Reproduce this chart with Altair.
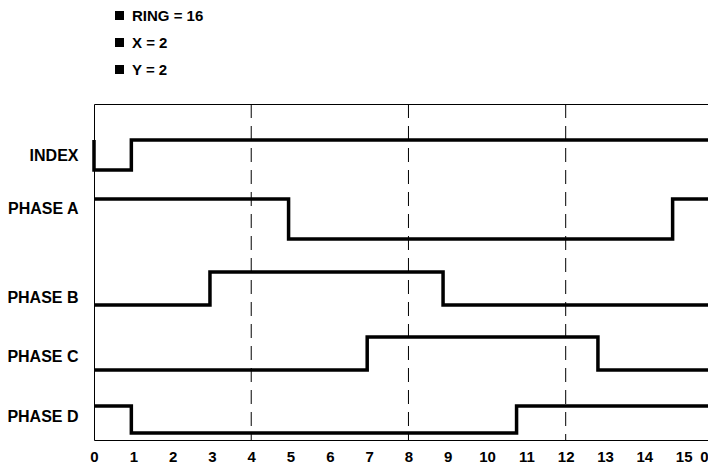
import altair as alt
import pandas as pd

# ---- data -------------------------------------------------------------
signal_names = ["INDEX", "PHASE A", "PHASE B", "PHASE C", "PHASE D"]
# low / high level of each trace (vertical units, 0 = bottom of the frame)
signal_low = [270, 201, 135, 70, 7]
signal_high = [300, 241, 168, 103, 34]
# transition times (x units) and the state after each time (step-after)
x_max = 15.62
signal_times = [
    [0, 0, 0.95, x_max],
    [0, 4.95, 14.72, x_max],
    [0, 2.95, 8.88, x_max],
    [0, 6.95, 12.82, x_max],
    [0, 0.95, 10.75, x_max],
]
signal_states = [
    [1, 0, 1, 1],
    [1, 0, 1, 1],
    [0, 1, 0, 0],
    [0, 1, 0, 0],
    [1, 0, 1, 1],
]
# where each row name sits on the left axis
label_pos = [285, 232, 143, 84, 24]

x_ticks = list(range(16)) + [x_max]
dashed_at = [4, 8, 12]
legend_items = ["RING = 16", "X = 2", "Y = 2"]

# ---- tables -----------------------------------------------------------
rows = []
for i, name in enumerate(signal_names):
    for k, (t, s) in enumerate(zip(signal_times[i], signal_states[i])):
        rows.append({
            "signal": name,
            "order": k,
            "t": t,
            "level": signal_low[i] + s * (signal_high[i] - signal_low[i]),
        })
df = pd.DataFrame(rows)
dash_df = pd.DataFrame({"t": dashed_at})
leg_df = pd.DataFrame({"item": legend_items})

label_expr = "''"
for name, pos in zip(signal_names, label_pos):
    label_expr = f"datum.value == {pos} ? '{name}' : ({label_expr})"

FONT = "Liberation Sans"

xscale = alt.Scale(domain=[0, x_max], nice=False, zero=False)
yscale = alt.Scale(domain=[0, 336], nice=False, zero=False)

x_axis = alt.Axis(
    values=x_ticks, labelExpr="datum.value > 15.5 ? '0' : datum.label",
    grid=False, ticks=False, domain=False, labelFont=FONT,
    labelFontSize=15, labelFontWeight="bold", labelColor="black",
    labelPadding=9, labelFlush=False, labelOverlap=False, labelBound=False,
    labelAlign={"condition": {"test": "datum.value > 15.5", "value": "right"}, "value": "center"},
)

lines = alt.Chart(df).mark_line(
    interpolate="step-after", color="black", strokeWidth=3.5,
    strokeJoin="miter", strokeCap="butt"
).encode(
    x=alt.X("t:Q", scale=xscale, title=None, axis=x_axis),
    y=alt.Y("level:Q", scale=yscale, title=None,
            axis=alt.Axis(values=label_pos, labelExpr=label_expr, grid=False,
                          ticks=False, domain=False, labelFont=FONT, labelFontSize=16,
                          labelFontWeight="bold", labelColor="black", labelPadding=16,
                          labelBaseline="middle", labelOverlap=False)),
    detail="signal:N",
    order="order:Q",
)

rules = alt.Chart(dash_df).mark_rule(
    color="black", strokeWidth=1, strokeDash=[14, 8]
).encode(x=alt.X("t:Q", scale=xscale, title=None, axis=x_axis))

legend_layer = alt.Chart(leg_df).mark_square(opacity=0, size=81).encode(
    color=alt.Color(
        "item:N",
        scale=alt.Scale(domain=legend_items, range=["black", "black", "black"]),
        legend=alt.Legend(
            orient="none", legendX=18, legendY=-96, title=None,
            symbolType="square", symbolSize=81, symbolOpacity=1,
            symbolFillColor="black", symbolStrokeWidth=0,
            labelFont=FONT, labelFontSize=15, labelFontWeight="bold",
            labelColor="black", labelOffset=5, rowPadding=11, padding=0,
        ),
    ),
    x=alt.value(0), y=alt.value(0),
)

chart = alt.layer(rules, lines, legend_layer).properties(
    width=614, height=336,
    autosize=alt.AutoSizeParams(type="none"),
    padding={"left": 86, "top": 96, "right": 0, "bottom": 26},
).configure_view(stroke="black", strokeWidth=1)

chart.save("out.html", embed_options={"renderer": "svg", "actions": False})
